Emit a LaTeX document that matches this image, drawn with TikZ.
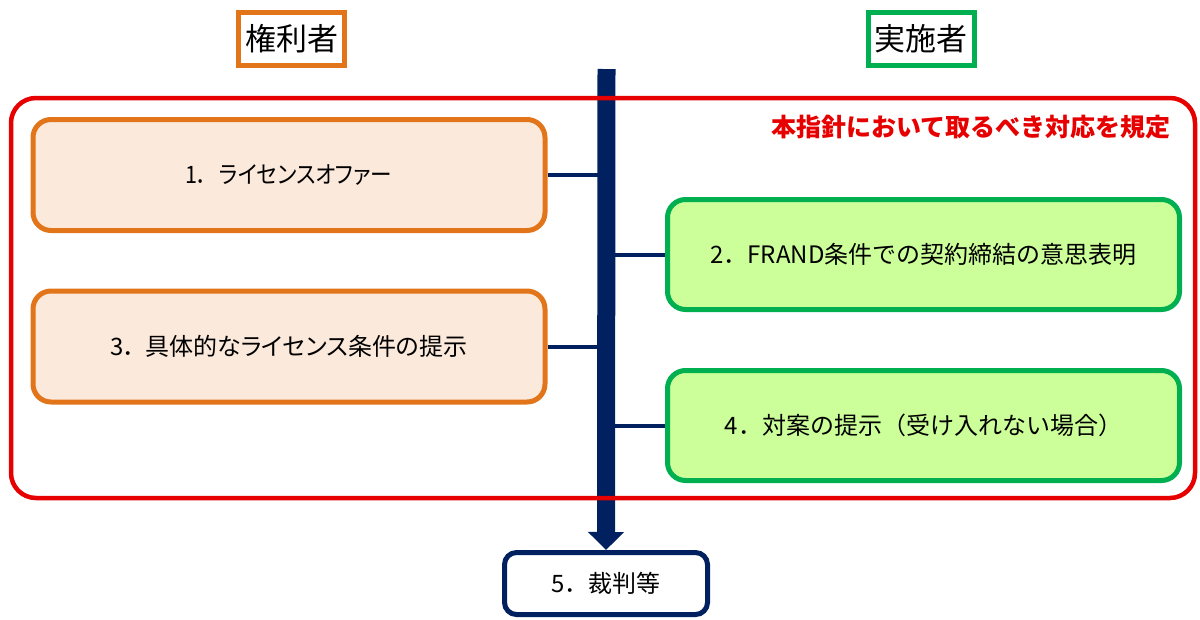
\documentclass[tikz,border=0pt]{standalone}
\usepackage{fontspec}
\setmainfont{Noto Sans CJK JP}
\newfontfamily\jpp{Noto Sans CJK JP}[RawFeature=+palt]
\newfontfamily\jpn{Noto Sans CJK JP}[RawFeature=+palt, FakeStretch=0.9]
\usetikzlibrary{arrows.meta}
\definecolor{orgline}{HTML}{E2741A}
\definecolor{orgfill}{HTML}{FBE9DB}
\definecolor{grnline}{HTML}{00B050}
\definecolor{grnfill}{HTML}{CCFF99}
\definecolor{navy}{HTML}{002060}
\definecolor{redline}{HTML}{E60000}
\tikzset{
  titlebox/.style={draw, line width=5pt, fill=white, minimum width=106pt, minimum height=53pt, inner sep=0pt, font=\fontsize{31}{31}\selectfont},
  orgbox/.style={draw=orgline, fill=orgfill, line width=5pt, rounded corners=18pt, minimum width=512pt, minimum height=111pt, inner sep=0pt, font=\fontsize{24}{24}\selectfont},
  grnbox/.style={draw=grnline, fill=grnfill, line width=5pt, rounded corners=18pt, minimum width=512pt, minimum height=110pt, inner sep=0pt, font=\fontsize{24}{24}\selectfont},
  link/.style={draw=navy, line width=4pt},
}
\begin{document}
\begin{tikzpicture}[x=1pt,y=-1pt]
\useasboundingbox (0,0) rectangle (1200,619);
% titles
\node[titlebox, draw=orgline] (t1) at (291.5,39) {権利者};
\node[titlebox, draw=grnline] (t2) at (921,39) {実施者};
% result box
\node[draw=navy, line width=5pt, fill=white, rounded corners=12pt, minimum width=203pt, minimum height=62pt, inner sep=0pt, font=\fontsize{24}{24}\selectfont] (b5) at (606,583.5) {5．裁判等};
% main bar with arrow
\coordinate (top) at (606.5,69);
\draw[navy, line width=18pt, -{Triangle[width=35pt,length=18pt]}] (top) -- (b5.north);
% boxes
\node[orgbox] (b1) at (289,175) {{\jpn 1．\hspace{0.45em}ライセンスオファー}};
\node[orgbox] (b3) at (289,346.5) {{\jpp 3．\hspace{0.4em}具体的なライセンス条件の提示}};
\node[grnbox] (b2) at (923.5,254.5) {2．FRAND条件での契約締結の意思表明};
\node[grnbox] (b4) at (923.5,425.5) {4．対案の提示（受け入れない場合）};
% connectors
\draw[link] (b1.east) -- (b1.east -| top);
\draw[link] (b3.east) -- (b3.east -| top);
\draw[link] (b2.west) -- (b2.west -| top);
\draw[link] (b4.west) -- (b4.west -| top);
% red frame
\node[draw=redline, line width=4.5pt, rounded corners=25pt, minimum width=1184pt, minimum height=400pt, inner sep=0pt] (frame) at (603,298) {};
\node[anchor=east, text=redline, inner sep=0pt, font=\fontsize{25}{25}\selectfont\bfseries] (note) at (1171,127) {本指針において取るべき対応を規定};
\end{tikzpicture}
\end{document}
